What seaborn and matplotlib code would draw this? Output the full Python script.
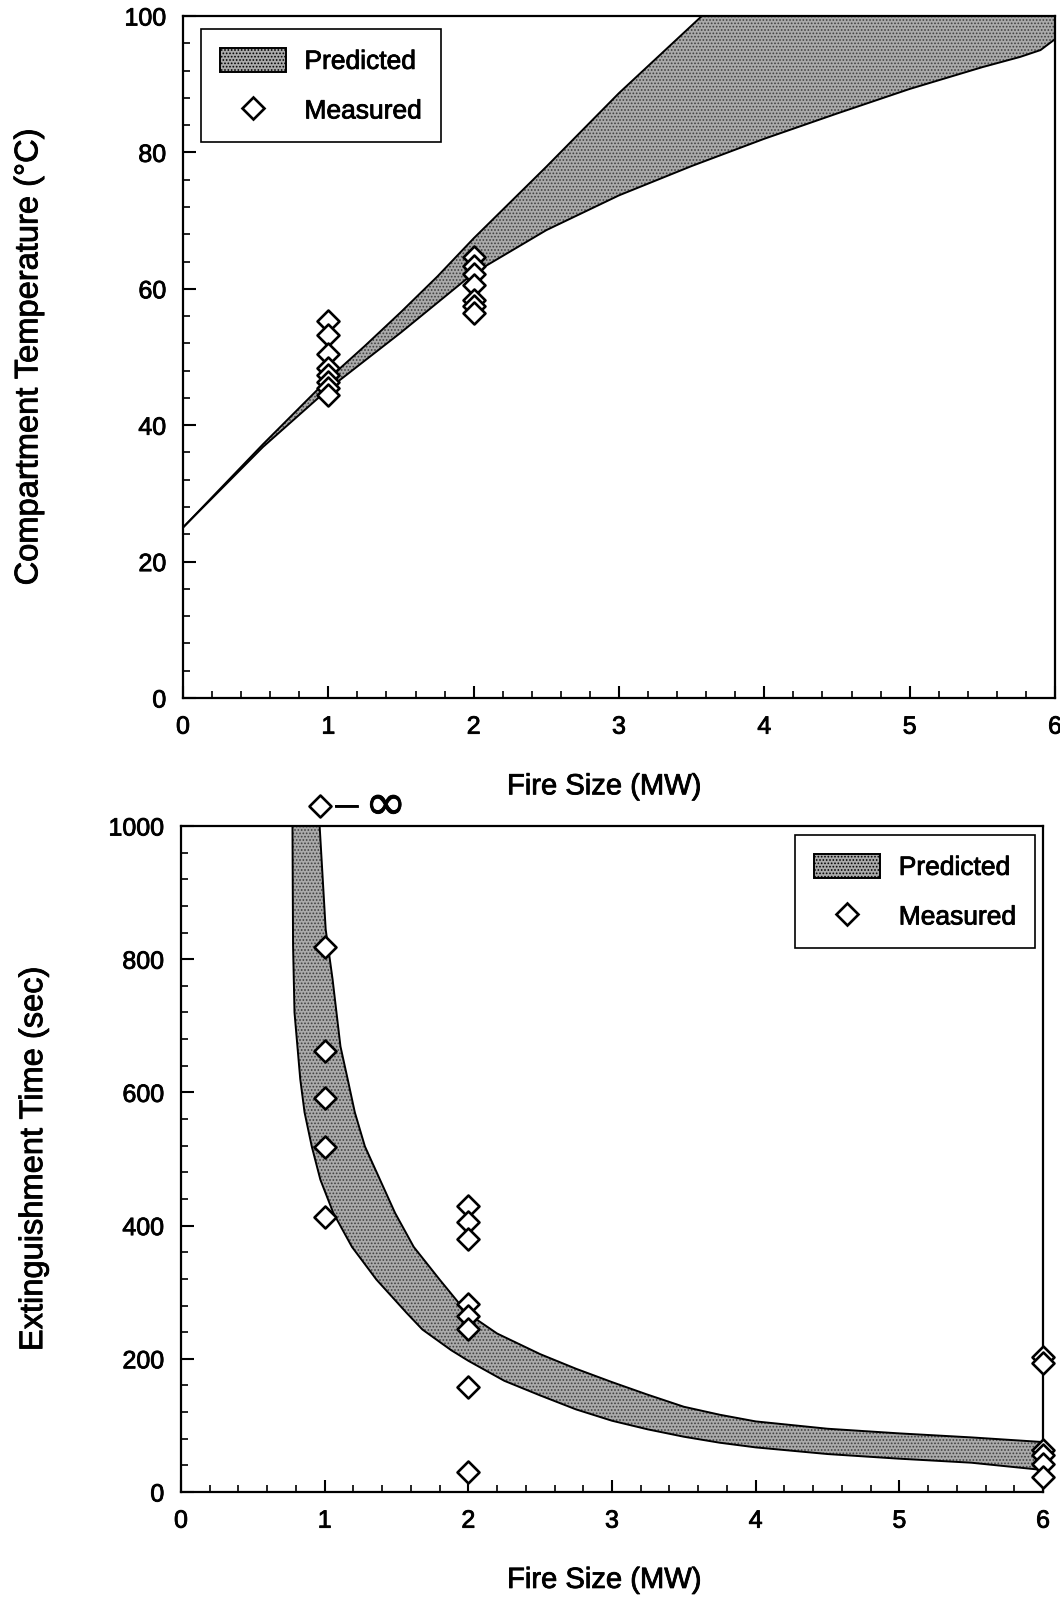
import numpy as np
import pandas as pd
import matplotlib
matplotlib.use("Agg")
import matplotlib.pyplot as plt
import matplotlib.patheffects as pe
import matplotlib.text as mtext
import seaborn as sns
from matplotlib.patches import Patch
from matplotlib.lines import Line2D
from matplotlib.ticker import MultipleLocator

# ---------------- data ----------------
# Top panel: compartment temperature (deg C) vs fire size (MW)
temp_upper_x = [0.0, 0.55, 1.0, 1.25, 1.5, 1.75, 2.0, 2.5, 3.0, 3.57, 6.0]
temp_upper_y = [25.0, 37.2, 46.8, 51.6, 56.6, 61.8, 67.4, 77.9, 88.7, 100.0, 100.0]
temp_lower_x = [0.0, 0.55, 1.0, 1.5, 2.0, 2.5, 3.0, 3.5, 4.0, 4.5, 5.0, 5.5, 5.76, 5.9, 6.0]
temp_lower_y = [25.0, 36.8, 45.3, 53.6, 62.3, 68.6, 73.7, 78.0, 82.0, 85.7, 89.3, 92.5, 94.0, 95.0, 96.6]
temp_meas_x = [1] * 8 + [2] * 7
temp_meas_y = [55.3, 53.2, 50.4, 48.4, 47.4, 46.4, 45.5, 44.4,
               64.7, 63.4, 62.2, 60.5, 58.3, 57.5, 56.4]

# Bottom panel: extinguishment time (sec) vs fire size (MW)
ext_upper_x = [0.965, 1.007, 1.055, 1.11, 1.16, 1.21, 1.28, 1.385, 1.49, 1.62, 1.80, 1.99,
               2.2, 2.5, 2.75, 3.0, 3.25, 3.5, 3.75, 4.0, 4.5, 5.0, 5.5, 6.0]
ext_upper_y = [1000, 845, 770, 669, 620, 570, 519, 469, 419, 368, 319, 269,
               238, 207, 185, 165, 146, 128, 116, 106, 95, 88, 82, 75]
ext_lower_x = [0.776, 0.778, 0.78, 0.79, 0.83, 0.86, 0.91, 0.97, 1.06, 1.19, 1.36, 1.57,
               1.68, 1.88, 2.0, 2.25, 2.5, 2.75, 3.0, 3.25, 3.5, 3.75, 4.0, 4.5, 5.0, 5.5, 6.0]
ext_lower_y = [1000, 900, 820, 720, 620, 570, 519, 469, 419, 368, 319, 269,
               244, 213, 197, 167, 145, 124, 107, 94, 83, 74, 67, 57, 50, 44, 33]
ext_meas_x = [1] * 5 + [2] * 8 + [6] * 6
ext_meas_y = [818, 662, 592, 518, 413,
              430, 405, 380, 283, 265, 245, 158, 30,
              203, 194, 63, 56, 42, 22]
ext_offscale_x = [0.967]
ext_offscale_y = [1030]   # drawn above the frame, marked "-> infinity"

legend_labels = ["Predicted", "Measured"]

# ---------------- styling ----------------
sns.set_theme(style="ticks")
plt.rcParams["font.family"] = ["Liberation Sans", "DejaVu Sans"]
plt.rcParams["hatch.linewidth"] = 0.8

BAND = "#aaaaaa"
HATCH = "#404040"

fig = plt.figure(figsize=(10.6, 15.97), dpi=100)
ax1 = fig.add_axes([183 / 1060, 1 - 698 / 1597, 872 / 1060, 682 / 1597])
ax2 = fig.add_axes([181 / 1060, 1 - 1492 / 1597, 862 / 1060, 666 / 1597])


def draw_band(ax, xu, yu, xl, yl):
    px = list(xu) + list(xl)[::-1]
    py = list(yu) + list(yl)[::-1]
    ax.fill(px, py, facecolor=BAND, edgecolor=HATCH, hatch=".....", linewidth=0, zorder=1)
    ax.plot(xu, yu, color="black", lw=1.4, zorder=2)
    ax.plot(xl, yl, color="black", lw=1.4, zorder=2)


def draw_points(ax, x, y, clip=True):
    df = pd.DataFrame({"x": x, "y": y})
    sns.scatterplot(data=df, x="x", y="y", ax=ax, marker="D", s=125, color="white",
                    edgecolor="black", linewidth=1.9, zorder=5, legend=False, clip_on=clip)


def style_axes(ax, ymax, ymaj, ymin):
    ax.set_xlim(0, 6)
    ax.set_ylim(0, ymax)
    ax.xaxis.set_major_locator(MultipleLocator(1))
    ax.xaxis.set_minor_locator(MultipleLocator(0.2))
    ax.yaxis.set_major_locator(MultipleLocator(ymaj))
    ax.yaxis.set_minor_locator(MultipleLocator(ymin))
    ax.tick_params(which="both", direction="in", top=False, right=False, colors="black")
    ax.tick_params(which="major", length=9, width=1.5, labelsize=18, pad=12)
    ax.tick_params(which="minor", length=5, width=1.2)
    for s in ax.spines.values():
        s.set_linewidth(1.6)
        s.set_color("black")
        s.set_zorder(4)
    ax.set_facecolor("white")


def make_legend(ax, **kw):
    handles = [Patch(facecolor=BAND, edgecolor="black", hatch=".....", linewidth=1.4),
               Line2D([], [], marker="D", ls="none", mfc="white", mec="black", ms=11, mew=1.9)]
    leg = ax.legend(handles, legend_labels, frameon=True, fancybox=False, edgecolor="black",
                    framealpha=1, fontsize=19, handlelength=2.5, handleheight=1.0,
                    handletextpad=0.7, labelspacing=0.9, borderpad=0.72, borderaxespad=0, **kw)
    leg.get_frame().set_linewidth(1.2)
    leg.set_zorder(6)
    for t in leg.get_texts():
        t.set_color("black")


# ---- top panel ----
draw_band(ax1, temp_upper_x, temp_upper_y, temp_lower_x, temp_lower_y)
draw_points(ax1, temp_meas_x, temp_meas_y)
style_axes(ax1, 100, 20, 4)
ax1.set_xlabel("Fire Size (MW)", fontsize=21, color="black")
ax1.set_ylabel("Compartment Temperature (°C)", fontsize=23.5, color="black")
ax1.xaxis.set_label_coords(0.483, -0.109)
ax1.yaxis.set_label_coords(-0.159, 0.5)
make_legend(ax1, loc="upper left", bbox_to_anchor=(18 / 872, 1 - 13 / 682))

# ---- bottom panel ----
draw_band(ax2, ext_upper_x, ext_upper_y, ext_lower_x, ext_lower_y)
draw_points(ax2, ext_meas_x, ext_meas_y, clip=False)
draw_points(ax2, ext_offscale_x, ext_offscale_y, clip=False)
ax2.text(1.07, 1030, "—", fontsize=17, va="center", ha="left", color="black")
ax2.text(1.28, 1031, "∞", fontsize=36, va="center", ha="left", color="black",
         family=["DejaVu Sans"])
style_axes(ax2, 1000, 200, 40)
ax2.set_xlabel("Fire Size (MW)", fontsize=21, color="black")
ax2.set_ylabel("Extinguishment Time (sec)", fontsize=23.5, color="black")
ax2.xaxis.set_label_coords(0.491, -0.111)
ax2.yaxis.set_label_coords(-0.153, 0.5)
make_legend(ax2, loc="upper right", bbox_to_anchor=(1 - 8 / 862, 1 - 9 / 666))

# slightly heavier glyphs, like the scanned original
for t in fig.findobj(mtext.Text):
    t.set_path_effects([pe.withStroke(linewidth=0.6, foreground="black")])

fig.savefig("out.png", dpi=100, facecolor="white")
